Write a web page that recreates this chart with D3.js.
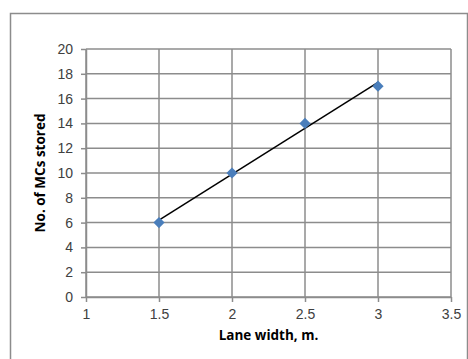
<!DOCTYPE html>
<html>
<head>
<meta charset="utf-8">
<script src="https://cdn.jsdelivr.net/npm/d3@7"></script>
<style>
  body { margin: 0; background: #fff; }
  svg { display: block; font-family: "Open Sans", "Liberation Sans", sans-serif; }
  .tick text { font-size: 14px; fill: #404040; }
  .axis-title { font-size: 13.5px; font-weight: bold; fill: #000; }
</style>
</head>
<body>
<div id="chart"></div>
<script>
// Lane width (m) vs. number of MCs stored
const laneWidth = [1.5, 2, 2.5, 3];
const mcsStored = [6, 10, 14, 17];
const xTicks = [1, 1.5, 2, 2.5, 3, 3.5];
const yTicks = [0, 2, 4, 6, 8, 10, 12, 14, 16, 18, 20];

const width = 468, height = 359;
const margin = { top: 49, right: 17, bottom: 62, left: 86 };
const innerWidth = width - margin.left - margin.right;
const innerHeight = height - margin.top - margin.bottom;

const svg = d3.select("#chart")
  .append("svg")
    .attr("width", width)
    .attr("height", height)
    .attr("viewBox", [0, 0, width, height]);

// outer chart frame
svg.append("rect")
    .attr("x", 10.5)
    .attr("y", 13.5)
    .attr("width", 457)
    .attr("height", 360)
    .attr("fill", "none")
    .attr("stroke", "#8c8c8c")
    .attr("stroke-width", 1.5);

const xScale = d3.scaleLinear().domain([1, 3.5]).range([0, innerWidth]);
const yScale = d3.scaleLinear().domain([0, 20]).range([innerHeight, 0]);

const innerChart = svg.append("g")
    .attr("transform", `translate(${margin.left}, ${margin.top})`);

// grid lines
innerChart.append("g")
  .selectAll("line")
  .data(yTicks)
  .join("line")
    .attr("x1", 0)
    .attr("x2", innerWidth)
    .attr("y1", d => yScale(d))
    .attr("y2", d => yScale(d))
    .attr("stroke", "#8c8c8c")
    .attr("stroke-width", 1.5);
innerChart.append("g")
  .selectAll("line")
  .data(xTicks)
  .join("line")
    .attr("x1", d => xScale(d))
    .attr("x2", d => xScale(d))
    .attr("y1", 0)
    .attr("y2", innerHeight)
    .attr("stroke", "#8c8c8c")
    .attr("stroke-width", 1.5);

const bottomAxis = d3.axisBottom(xScale)
  .tickValues(xTicks)
  .tickFormat(d3.format("~g"))
  .tickSize(5)
  .tickPadding(7)
  .tickSizeOuter(0);
innerChart.append("g")
    .attr("class", "axis axis-x")
    .attr("transform", `translate(0, ${innerHeight})`)
    .call(bottomAxis);

const leftAxis = d3.axisLeft(yScale)
  .tickValues(yTicks)
  .tickSize(5)
  .tickPadding(8)
  .tickSizeOuter(0);
innerChart.append("g")
    .attr("class", "axis axis-y")
    .call(leftAxis);

d3.selectAll(".axis .domain, .axis .tick line")
    .attr("stroke", "#8c8c8c")
    .attr("stroke-width", 1.5);
d3.selectAll(".axis .tick text")
    .attr("font-family", null)
    .attr("font-size", null);

// linear trendline through the points
const xMean = d3.mean(laneWidth), yMean = d3.mean(mcsStored);
const slope = d3.sum(laneWidth, (x, i) => (x - xMean) * (mcsStored[i] - yMean))
  / d3.sum(laneWidth, x => (x - xMean) ** 2);
const intercept = yMean - slope * xMean;
const trendX = d3.extent(laneWidth);

innerChart.append("line")
    .attr("x1", xScale(trendX[0]))
    .attr("y1", yScale(intercept + slope * trendX[0]))
    .attr("x2", xScale(trendX[1]))
    .attr("y2", yScale(intercept + slope * trendX[1]))
    .attr("stroke", "#000")
    .attr("stroke-width", 1.5);

// diamond markers
const diamond = d3.symbol().type(d3.symbolDiamond2).size(80);
innerChart.append("g")
  .selectAll("path")
  .data(laneWidth)
  .join("path")
    .attr("d", diamond)
    .attr("transform", (d, i) => `translate(${xScale(d)}, ${yScale(mcsStored[i])})`)
    .attr("fill", "#4a7ebb");

// axis titles
svg.append("text")
    .attr("class", "axis-title")
    .attr("x", margin.left + xScale(2.25))
    .attr("y", 340)
    .attr("text-anchor", "middle")
    .text("Lane width, m.");

svg.append("text")
    .attr("class", "axis-title")
    .attr("transform", `translate(45, ${margin.top + yScale(10)}) rotate(-90)`)
    .attr("text-anchor", "middle")
    .text("No. of MCs stored");
</script>
</body>
</html>
